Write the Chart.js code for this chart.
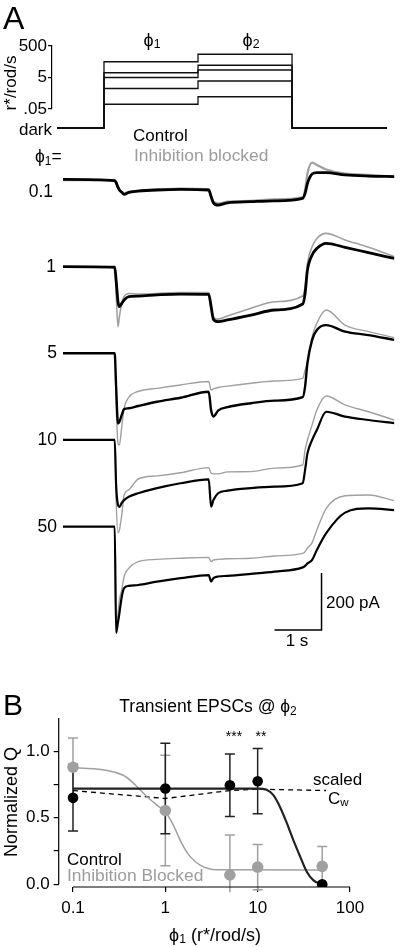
<!DOCTYPE html>
<html>
<head>
<meta charset="utf-8">
<title>Transient EPSCs</title>
<script src="https://cdn.jsdelivr.net/npm/chart.js@4.4.1/dist/chart.umd.min.js"></script>
<style>
  body { margin: 0; background: #fff; }
  #fig { position: relative; width: 400px; height: 947px; overflow: hidden;
         font-family: "Liberation Sans", Arial, Helvetica, sans-serif; color: #000; }
  #fig canvas { position: absolute; left: 0; top: 0; }
  .t { position: absolute; white-space: nowrap; font-size: 17px; line-height: 1; transform: translateY(-50%); }
  .r { transform: translate(-100%, -50%); }
  .c { transform: translate(-50%, -50%); }
  .rot { transform: translate(-50%, -50%) rotate(-90deg); }
  .g { color: #9c9c9c; }
  sub { font-size: 0.68em; vertical-align: -0.2em; line-height: 0; }
</style>
</head>
<body>
<div id="fig">
  <canvas id="protocol" width="400" height="947"></canvas>
  <canvas id="traces" width="400" height="947"></canvas>
  <canvas id="summary" width="400" height="947"></canvas>

  <div class="t" style="left:3px;top:18px;font-size:32px">A</div>
  <div class="t c" style="left:152px;top:40px;font-size:18px">ϕ<sub>1</sub></div>
  <div class="t c" style="left:251px;top:40px;font-size:18px">ϕ<sub>2</sub></div>
  <div class="t r" style="left:52px;top:129px">dark</div>
  <div class="t rot" style="left:10px;top:83px">r*/rod/s</div>
  <div class="t" style="left:133px;top:135px">Control</div>
  <div class="t g" style="left:134px;top:156px;font-size:17.4px">Inhibition blocked</div>
  <div class="t" style="left:35px;top:157px;font-size:17.5px">ϕ<sub>1</sub>=</div>
  <div id="traceLabels"></div>
  <div class="t" style="left:326px;top:602px">200 pA</div>
  <div class="t c" style="left:297px;top:640px">1 s</div>

  <div class="t" style="left:3px;top:705px;font-size:30px">B</div>
  <div class="t c" style="left:208px;top:707px;font-size:17.5px">Transient EPSCs @ ϕ<sub>2</sub></div>
  <div class="t c" style="left:234px;top:736px;font-size:14px">***</div>
  <div class="t c" style="left:261px;top:736px;font-size:14px">**</div>
  <div class="t" style="left:313px;top:779px;font-size:17px">scaled</div>
  <div class="t" style="left:328px;top:798px;font-size:17px">C<sub>w</sub></div>
  <div class="t rot" style="left:11px;top:802px;font-size:18px">Normalized Q</div>
  <div class="t" style="left:67px;top:859px">Control</div>
  <div class="t g" style="left:67px;top:876px;font-size:17.4px">Inhibition Blocked</div>
  <div class="t c" style="left:215px;top:935px;font-size:18px">ϕ<sub>1</sub> (r*/rod/s)</div>
</div>

<script>
// ---- Données du protocole de stimulation (r*/rod/s) ----
const protocolPhi1 = [50, 10, 5, 1, 0.1];
const protocolPhi2 = [150, 30, 15, 3, 0.3];
const protocolTicks = [0.05, 5, 500];
const protocolTickLabels = ['.05', '5', '500'];
const DARK = 0.0031;            // niveau "dark" sous l'axe log
const STEP_ON = 1, STEP_MID = 3, STEP_OFF = 5, PROTO_END = 7.02;

// ---- Courants (pA, relatifs à la ligne de base) ----
const traceLabels = ['0.1', '1', '5', '10', '50'];
const traceTime = [0, 1.1, 1.13, 1.17, 1.2, 1.25, 1.3, 1.4, 1.6, 2.0, 2.5, 3.1, 3.15, 3.2, 3.3, 3.5, 4.0, 4.5, 5.1, 5.15, 5.2, 5.3, 5.4, 5.6, 6.0, 6.5, 7.05];

const ctrl01 = [2, -2, -9, -26, -35, -43, -50, -43, -39, -35, -33, -35, -58, -80, -88, -80, -76, -73, -64, -47, -12, 21, 26, 26, 18, 14, 12];
const ctrl1  = [0, -2, -47, -123, -140, -129, -117, -105, -103, -99, -96, -97, -140, -185, -193, -187, -170, -152, -131, -94, -12, 41, 64, 82, 68, 49, 29];
const ctrl5  = [0, 0, -117, -246, -240, -216, -196, -193, -185, -170, -156, -135, -199, -222, -201, -189, -175, -166, -154, -117, -34, 47, 82, 99, 76, 64, 47];
const ctrl10 = [0, 0, -158, -228, -235, -221, -211, -199, -187, -169, -152, -138, -234, -211, -187, -178, -169, -164, -152, -105, -47, 0, 35, 99, 82, 70, 59];
const ctrl50 = [0, 0, -373, -335, -304, -246, -216, -208, -205, -193, -181, -170, -193, -181, -175, -173, -166, -158, -143, -138, -129, -117, -82, -23, 49, 64, 58];

const blk01 = [0, 0, -7, -23, -33, -41, -47, -41, -37, -33, -30, -33, -56, -76, -82, -76, -73, -68, -61, -35, 23, 61, 53, 37, 23, 18, 12];
const blk1  = [0, 0, -94, -211, -175, -129, -105, -94, -96, -94, -91, -91, -129, -175, -184, -173, -146, -123, -103, -70, 12, 70, 99, 117, 94, 68, 35];
const blk5  = [0, 0, -175, -316, -322, -257, -193, -154, -134, -123, -111, -99, -129, -125, -120, -115, -105, -97, -88, -58, -34, 58, 106, 152, 99, 76, 55];
const blk10 = [0, 0, -211, -326, -316, -263, -193, -175, -137, -126, -115, -97, -117, -119, -119, -112, -111, -99, -88, -35, 0, 53, 105, 154, 123, 99, 70];
const blk50 = [0, 0, -373, -304, -257, -222, -175, -146, -123, -115, -111, -108, -123, -117, -115, -113, -111, -103, -94, -88, -76, -56, -12, 64, 108, 111, 91];

// barre d'échelle : 1 s, 200 pA
const scaleBarTime = [4.5, 5.5, 5.5];
const scaleBarCurrent = [70, 70, 270];

// ---- Panneau B : charge normalisée ----
const phiValues = [0.1, 1, 5, 10, 50];
const controlQ = [0.65, 0.72, 0.745, 0.775, 0.0];
const controlErr = [0.25, 0.34, 0.235, 0.245, 0];
const blockedQ = [0.88, 0.555, 0.07, 0.13, 0.135];
const blockedErr = [0.22, 0.415, 0.30, 0.17, 0.15];

const ctrlFitPhi = [0.1, 10, 12.5, 14.8, 17.5, 20.7, 24.4, 28.8, 34, 40.2, 50];
const ctrlFitQ = [0.72, 0.72, 0.71, 0.67, 0.58, 0.46, 0.33, 0.21, 0.095, 0.03, 0.0];
const blkFitPhi = [0.1, 0.35, 0.63, 0.81, 1, 1.22, 1.5, 1.85, 2.38, 3.6, 50];
const blkFitQ = [0.88, 0.82, 0.66, 0.595, 0.545, 0.445, 0.31, 0.21, 0.145, 0.11, 0.107];
const cwPhi = [0.1, 1, 5, 10, 55];
const cwQ = [0.705, 0.645, 0.705, 0.715, 0.705];

const xTicksB = [0.1, 1, 10, 100];
const xTickLabelsB = ['0.1', '1', '10', '100'];
const yTicksB = [0, 0.25, 0.5, 0.75, 1.0];
const yTickLabelsB = ['0.0', '', '0.5', '', '1.0'];

// ---- Mise en page (pixels) et styles ----
const traceOffsets = [1649, 1345, 1041, 737, 433];
const traceLabelX = [53, 56, 57, 57, 57];
const traceLabelY = [192, 267, 353, 440, 527];
const ctrlWidths = [2.8, 2.8, 2.4, 2.2, 2.2];   // traces bruitées : trait plus épais
const blkWidths = [2.2, 1.6, 1.4, 1.4, 1.4];

const GREY = '#a0a0a0';

Chart.defaults.font.family = '"Liberation Sans", Arial, Helvetica, sans-serif';
Chart.defaults.font.size = 16;
Chart.defaults.color = '#000';
Chart.defaults.animation = false;

const zip = (xs, ys, off) => xs.map((x, i) => ({ x: x, y: ys[i] + (off || 0) }));

// étiquettes des traces
const labelBox = document.getElementById('traceLabels');
traceLabels.forEach((lab, i) => {
    const d = document.createElement('div');
    d.className = 't r';
    d.style.left = traceLabelX[i] + 'px';
    d.style.top = traceLabelY[i] + 'px';
    d.style.fontSize = '17.5px';
    d.textContent = lab;
    labelBox.appendChild(d);
});

// ---- Protocole ----
const protocolSets = protocolPhi1.map((p1, i) => ({
    data: zip(
        [0, STEP_ON, STEP_ON, STEP_MID, STEP_MID, STEP_OFF, STEP_OFF, PROTO_END],
        [DARK, DARK, p1, p1, protocolPhi2[i], protocolPhi2[i], DARK, DARK]
    ),
    borderColor: '#111',
    borderWidth: 1.3,
    pointRadius: 0,
    tension: 0,
    clip: false
}));

new Chart(document.getElementById('protocol'), {
    type: 'line',
    data: { datasets: protocolSets },
    options: {
        responsive: false,
        events: [],
        layout: { padding: { left: 0, top: 46, right: 13, bottom: 838 } },
        plugins: { legend: { display: false }, tooltip: { enabled: false } },
        scales: {
            x: { type: 'linear', min: -0.106, max: 7.02, display: false },
            y: {
                type: 'logarithmic', min: 0.05, max: 500,
                afterFit: (s) => { s.width = 52; },
                afterBuildTicks: (s) => { s.ticks = protocolTicks.map(v => ({ value: v })); },
                ticks: { callback: (v, i) => protocolTickLabels[i], padding: 1, autoSkip: false, font: { size: 17 } },
                grid: { drawOnChartArea: false, tickLength: 4, color: '#000', lineWidth: 1.2 },
                border: { color: '#000', width: 1.2 }
            }
        }
    }
});

// ---- Traces ----
const controlTraces = [ctrl01, ctrl1, ctrl5, ctrl10, ctrl50];
const blockedTraces = [blk01, blk1, blk5, blk10, blk50];

const traceSets = [{
    data: zip(scaleBarTime, scaleBarCurrent),
    borderColor: '#000', borderWidth: 1.5, pointRadius: 0, tension: 0
}];
controlTraces.forEach((arr, i) => {
    traceSets.push({
        data: zip(traceTime, arr, traceOffsets[i]),
        borderColor: '#000', borderWidth: ctrlWidths[i], pointRadius: 0,
        cubicInterpolationMode: 'monotone'
    });
});
blockedTraces.forEach((arr, i) => {
    traceSets.push({
        data: zip(traceTime, arr, traceOffsets[i]),
        borderColor: GREY, borderWidth: blkWidths[i], pointRadius: 0,
        cubicInterpolationMode: 'monotone'
    });
});

new Chart(document.getElementById('traces'), {
    type: 'line',
    data: { datasets: traceSets },
    options: {
        responsive: false,
        events: [],
        layout: { padding: { left: 63, top: 160, right: 5.6, bottom: 297 } },
        plugins: { legend: { display: false }, tooltip: { enabled: false } },
        scales: {
            x: { type: 'linear', min: 0, max: 7.05, display: false },
            y: { type: 'linear', min: 0, max: 1719.3, display: false }
        }
    }
});

// ---- Panneau B ----
const errorBars = {
    id: 'errorBars',
    beforeDatasetsDraw(chart) {
        const { ctx, scales: { x, y } } = chart;
        const floor = y.getPixelForValue(-0.06);
        const groups = [[blockedQ, blockedErr, GREY], [controlQ, controlErr, '#222']];
        ctx.save();
        ctx.lineWidth = 1.5;
        groups.forEach(([q, e, col]) => {
            ctx.strokeStyle = col;
            phiValues.forEach((p, i) => {
                if (!e[i]) return;
                const px = x.getPixelForValue(p);
                const top = y.getPixelForValue(q[i] + e[i]);
                let bot = y.getPixelForValue(q[i] - e[i]);
                const clipped = bot > floor;
                if (clipped) bot = floor;
                ctx.beginPath();
                ctx.moveTo(px, top); ctx.lineTo(px, bot);
                ctx.moveTo(px - 5, top); ctx.lineTo(px + 5, top);
                if (!clipped) { ctx.moveTo(px - 5, bot); ctx.lineTo(px + 5, bot); }
                ctx.stroke();
            });
        });
        ctx.restore();
    }
};

const detachedAxes = {
    id: 'detachedAxes',
    afterDatasetsDraw(chart) {
        const { ctx, chartArea, scales: { x, y } } = chart;
        ctx.save();
        ctx.strokeStyle = '#000';
        ctx.lineWidth = 1.2;
        ctx.beginPath();
        ctx.moveTo(x.getPixelForValue(xTicksB[0]), chartArea.bottom);
        ctx.lineTo(x.getPixelForValue(xTicksB[xTicksB.length - 1]), chartArea.bottom);
        ctx.moveTo(chartArea.left, chartArea.top);
        ctx.lineTo(chartArea.left, y.getPixelForValue(0));
        ctx.stroke();
        ctx.restore();
    }
};

new Chart(document.getElementById('summary'), {
    type: 'line',
    data: {
        datasets: [
            { data: zip(phiValues, controlQ), showLine: false, pointRadius: 5.3,
              pointBackgroundColor: '#000', pointBorderColor: '#000', pointBorderWidth: 0 },
            { data: zip(phiValues, blockedQ), showLine: false, pointRadius: 5.8,
              pointBackgroundColor: GREY, pointBorderColor: GREY, pointBorderWidth: 0 },
            { data: zip(ctrlFitPhi, ctrlFitQ), borderColor: '#222', borderWidth: 2.2,
              pointRadius: 0, cubicInterpolationMode: 'monotone' },
            { data: zip(blkFitPhi, blkFitQ), borderColor: GREY, borderWidth: 1.5,
              pointRadius: 0, cubicInterpolationMode: 'monotone' },
            { data: zip(cwPhi, cwQ), borderColor: '#000', borderWidth: 1.3,
              borderDash: [5, 4], pointRadius: 0, tension: 0 }
        ]
    },
    options: {
        responsive: false,
        events: [],
        layout: { padding: { left: 0, top: 718, right: 50, bottom: 0 } },
        plugins: { legend: { display: false }, tooltip: { enabled: false } },
        scales: {
            x: {
                type: 'logarithmic', min: 0.07, max: 100,
                afterFit: (s) => { s.height = 60; },
                afterBuildTicks: (s) => { s.ticks = xTicksB.map(v => ({ value: v })); },
                ticks: { callback: (v, i) => xTickLabelsB[i], padding: 6, autoSkip: false, maxRotation: 0, font: { size: 17 } },
                grid: { drawOnChartArea: false, tickLength: 5, color: '#000', lineWidth: 1.2 },
                border: { display: false }
            },
            y: {
                type: 'linear', min: -0.02, max: 1.25,
                afterFit: (s) => { s.width = 58.7; },
                afterBuildTicks: (s) => { s.ticks = yTicksB.map(v => ({ value: v })); },
                ticks: { callback: (v, i) => yTickLabelsB[i], padding: 4, autoSkip: false, font: { size: 17 } },
                grid: { drawOnChartArea: false, tickLength: 5, color: '#000', lineWidth: 1.2 },
                border: { display: false }
            }
        }
    },
    plugins: [errorBars, detachedAxes]
});
</script>
</body>
</html>
